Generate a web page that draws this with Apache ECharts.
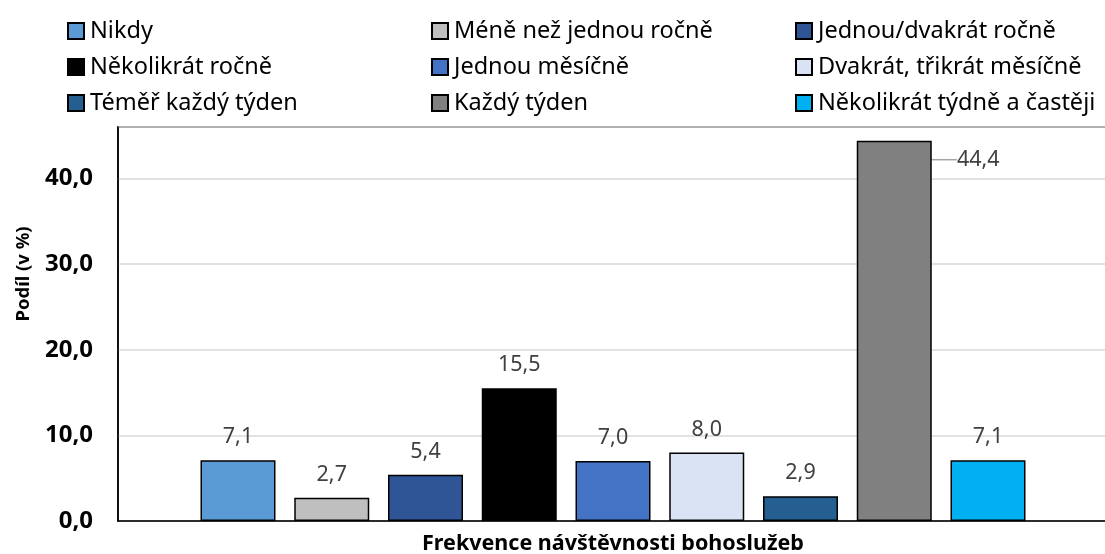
<!DOCTYPE html>
<html>
<head>
<meta charset="utf-8">
<script src="https://cdn.jsdelivr.net/npm/echarts@6/dist/echarts.min.js"></script>
<style>
    html, body {margin: 0; padding: 0; background: #fff;}
    #chart {width: 1105px; height: 554px;}
</style>
</head>
<body>
<div id="chart"></div>
<script>
    const categories = ['Nikdy', 'Méně než jednou ročně', 'Jednou/dvakrát ročně',
        'Několikrát ročně', 'Jednou měsíčně', 'Dvakrát, třikrát měsíčně',
        'Téměř každý týden', 'Každý týden', 'Několikrát týdně a častěji'];
    const values = [7.1, 2.7, 5.4, 15.5, 7.0, 8.0, 2.9, 44.4, 7.1];
    const colors = ['#5b9bd5', '#bfbfbf', '#2f5597', '#000000', '#4472c4',
        '#dae3f3', '#255e91', '#808080', '#00b0f0'];
    const yTicks = [0, 10, 20, 30, 40];

    const font = '"Noto Sans", sans-serif';

    function fmt(v) {
        return v.toFixed(1).replace('.', ',');
    }

    // three legend columns, filled row by row
    const legends = [0, 1, 2].map(function (col) {
        return {
            orient: 'vertical',
            left: [62, 426, 790][col],
            top: 14,
            itemGap: 12,
            itemWidth: 16,
            itemHeight: 16,
            icon: 'rect',
            data: categories.filter(function (c, i) {
                return i % 3 === col;
            }),
            textStyle: {fontFamily: font, fontSize: 23.5, lineHeight: 22, color: '#000', padding: [0, 0, 0, 1]}
        };
    });

    const series = categories.map(function (name, i) {
        const s = {
            name: name,
            type: 'bar',
            data: [values[i]],
            barWidth: 75,
            barGap: '25%',
            itemStyle: {color: colors[i], borderColor: '#000', borderWidth: 1.5},
            label: {
                show: true,
                position: 'top',
                distance: 12,
                formatter: function (p) {
                    return fmt(p.value);
                },
                fontFamily: font,
                fontSize: 21.5,
                color: '#404040'
            }
        };
        if (name === 'Každý týden') {
            s.labelLayout = {dx: 84, dy: 42};
            s.labelLine = {show: true, length2: 10, lineStyle: {color: '#a6a6a6', width: 1.5}};
        }
        return s;
    });

    const option = {
        animation: false,
        backgroundColor: '#fff',
        legend: legends,
        grid: {
            show: true,
            left: 118,
            right: -3,
            top: 127,
            bottom: 33,
            outerBoundsMode: 'none',
            borderColor: '#000',
            borderWidth: 1.5
        },
        xAxis: {
            type: 'category',
            data: [''],
            name: 'Frekvence návštěvnosti bohoslužeb',
            nameLocation: 'middle',
            nameGap: 12,
            nameTextStyle: {fontFamily: font, fontSize: 21.5, fontWeight: 'bold', color: '#000'},
            axisLine: {lineStyle: {color: '#000', width: 1.5}},
            axisTick: {show: false},
            axisLabel: {show: false}
        },
        yAxis: {
            type: 'value',
            min: 0,
            max: 46,
            interval: 10,
            name: 'Podíl (v %)',
            nameLocation: 'middle',
            nameGap: 85,
            nameTextStyle: {fontFamily: font, fontSize: 18.5, fontWeight: 'bold', color: '#000', padding: [0, 0, 0, 100]},
            axisLine: {show: true, lineStyle: {color: '#000', width: 1.5}},
            axisTick: {show: false},
            axisLabel: {
                margin: 25,
                fontFamily: font,
                fontSize: 24,
                fontWeight: 'bold',
                color: '#000',
                formatter: function (v) {
                    return yTicks.indexOf(v) >= 0 ? fmt(v) : '';
                }
            },
            splitLine: {lineStyle: {color: '#d9d9d9', width: 1.5}}
        },
        series: series
    };

    const myChart = echarts.init(document.getElementById('chart'));
    myChart.setOption(option);
</script>
</body>
</html>
